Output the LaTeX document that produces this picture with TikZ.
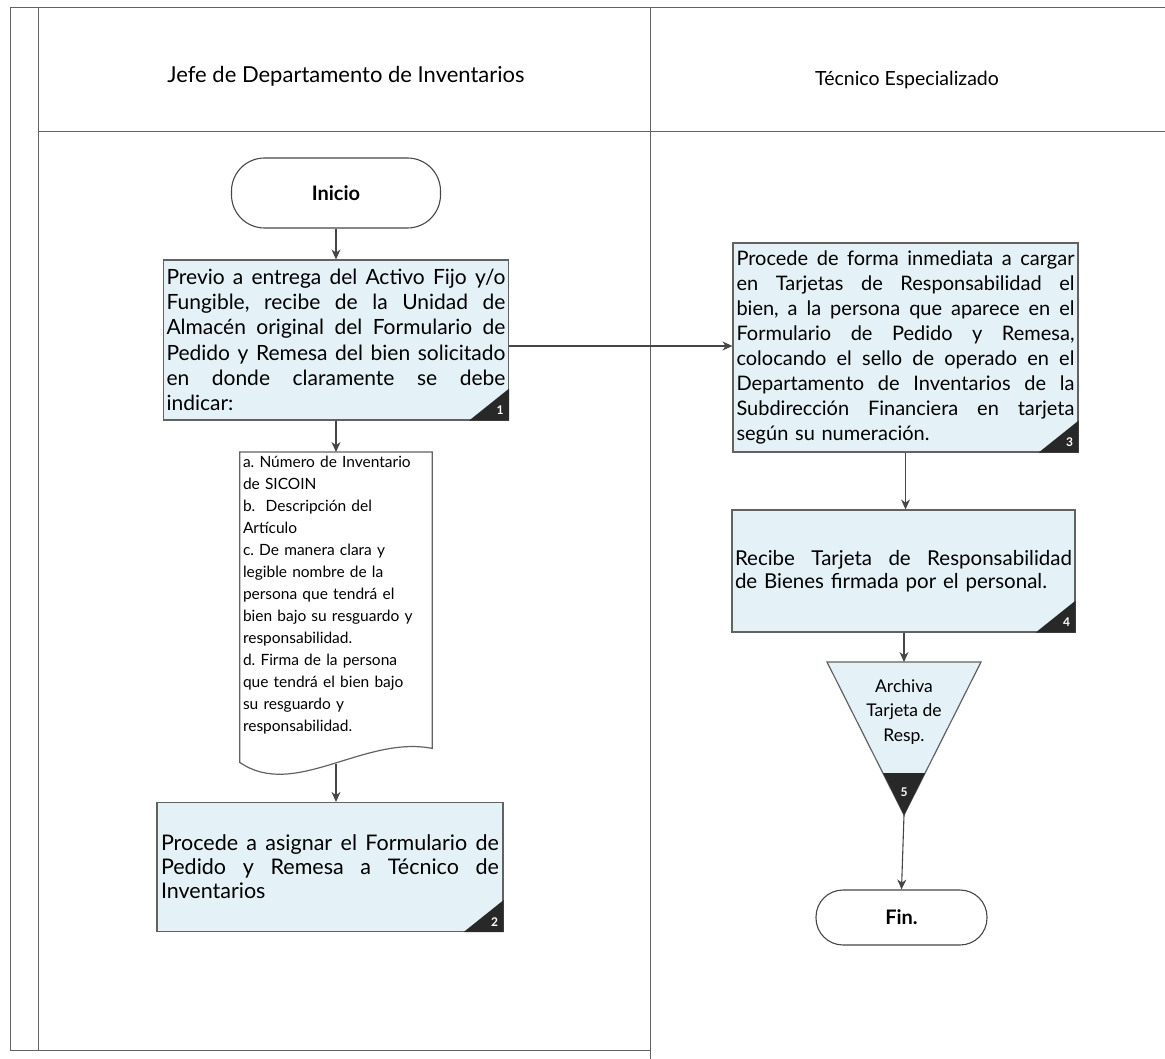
\documentclass[tikz,border=0pt]{standalone}
\usepackage{fontspec}
\setmainfont{Lato}
\usetikzlibrary{arrows.meta}
\definecolor{boxfill}{RGB}{228,241,246}
\definecolor{linec}{RGB}{70,70,70}
\definecolor{badgec}{RGB}{40,40,40}
\newcommand{\jl}[2]{\leavevmode\hbox to #1{\spaceskip=\fontdimen2\font plus 1fil minus \fontdimen4\font\relax #2}}
\frenchspacing
\begin{document}
\begin{tikzpicture}[x=1pt,y=-1pt,
  arr/.style={draw=linec, line width=1.1pt, -{Stealth[length=10pt,width=9pt]}},
  lane/.style={draw=linec!85, line width=1pt},
  outl/.style={draw=linec!85, line width=1.2pt},
  procbox/.style={outl, fill=boxfill, inner sep=3pt, align=left},
  term/.style={draw=linec, line width=1.1pt, fill=white, font=\bfseries\fontsize{20}{24}\selectfont},
  badgenum/.style={text=white, font=\bfseries\fontsize{12}{14}\selectfont, inner sep=0pt},
  hdr/.style={font=\fontsize{19.5}{23}\selectfont}]
\useasboundingbox (0,0) rectangle (1165,1059);

% lanes
\draw[lane] (10,8) -- (10,1050) -- (650,1050);
\draw[lane] (38,8) -- (38,1050);
\draw[lane] (10,8) -- (1165,8);
\draw[lane] (38,132) -- (1165,132);
\draw[lane] (650,8) -- (650,1059);

\node[hdr, font=\fontsize{22}{26}\selectfont] (h1) at (346,76) {Jefe de Departamento de Inventarios};
\node[hdr] (h2) at (907,80) {Técnico Especializado};

% Inicio
\node[term, rounded corners=33pt, minimum width=209pt, minimum height=70pt] (ini) at (336,193) {Inicio};

% Box 1
\node[procbox, minimum width=345pt, minimum height=160pt, text width=339pt,
      font=\fontsize{21}{25.3}\selectfont] (b1) at (336,340)
{\jl{339pt}{Previo a entrega del Activo Fijo y/o}\\
 \jl{339pt}{Fungible, recibe de la Unidad de}\\
 \jl{339pt}{Almacén original del Formulario de}\\
 \jl{339pt}{Pedido y Remesa del bien solicitado}\\
 \jl{339pt}{en donde claramente se debe}\\
 indicar:};
\fill[badgec] (b1.south east) -- ++(0,-32) -- ++(-40,32) -- cycle;
\node[badgenum] (n1) at ([shift={(-9,-10)}]b1.south east) {1};

% Document
\node[inner sep=0pt, minimum width=192pt, minimum height=310pt, anchor=north] (doc) at (336,452) {};
\draw[outl, fill=white] (doc.north west) -- (doc.north east) -- ([yshift=14pt]doc.south east)
   .. controls (364,735) and (294,800) .. (doc.south west) -- cycle;
\node[font=\fontsize{15.5}{22}\selectfont, text width=188pt, align=left, anchor=north west, inner sep=0pt] (doctext) at ([shift={(3,4)}]doc.north west)
{a. Número de Inventario\\
 de SICOIN\\
 b.\ \ Descripción del\\
 Artículo\\
 c. De manera clara y\\
 legible nombre de la\\
 persona que tendrá el\\
 bien bajo su resguardo y\\
 responsabilidad.\\
 d. Firma de la persona\\
 que tendrá el bien bajo\\
 su resguardo y\\
 responsabilidad.};
\coordinate (docb) at (336,764);

% Box 2
\node[procbox, minimum width=346pt, minimum height=129pt, text width=338pt,
      font=\fontsize{21.5}{24}\selectfont] (b2) at (330,867)
{\jl{338pt}{Procede a asignar el Formulario de}\\
 \jl{338pt}{Pedido y Remesa a Técnico de}\\
 Inventarios};
\fill[badgec] (b2.south east) -- ++(0,-32) -- ++(-40,32) -- cycle;
\node[badgenum] (n2) at ([shift={(-9,-10)}]b2.south east) {2};

% Box 3
\node[procbox, minimum width=345pt, minimum height=209pt, text width=338pt,
      font=\fontsize{20}{25}\selectfont] (b3) at (905.5,347.5)
{\jl{338pt}{Procede de forma inmediata a cargar}\\
 \jl{338pt}{en Tarjetas de Responsabilidad el}\\
 \jl{338pt}{bien, a la persona que aparece en el}\\
 \jl{338pt}{Formulario de Pedido y Remesa,}\\
 \jl{338pt}{colocando el sello de operado en el}\\
 \jl{338pt}{Departamento de Inventarios de la}\\
 \jl{338pt}{Subdirección Financiera en tarjeta}\\
 según su numeración.};
\fill[badgec] (b3.south east) -- ++(0,-32) -- ++(-40,32) -- cycle;
\node[badgenum] (n3) at ([shift={(-9,-10)}]b3.south east) {3};

% Box 4
\node[procbox, minimum width=343pt, minimum height=122pt, text width=337pt,
      font=\fontsize{20.5}{23}\selectfont] (b4) at (903.5,571)
{\jl{337pt}{Recibe Tarjeta de Responsabilidad}\\
 de Bienes firmada por el personal.};
\fill[badgec] (b4.south east) -- ++(0,-32) -- ++(-40,32) -- cycle;
\node[badgenum] (n4) at ([shift={(-9,-10)}]b4.south east) {4};

% Triangle (archive)
\coordinate (tritop) at (904,662);
\coordinate (triapex) at (904,815);
\draw[outl, fill=boxfill] (827,662) -- (981,662) -- (triapex) -- cycle;
\fill[badgec] (883,773) -- (925,773) -- (triapex) -- cycle;
\node[align=center, font=\fontsize{17.5}{24.5}\selectfont, inner sep=0pt] (tri) at (904,712) {Archiva\\Tarjeta de\\Resp.};
\node[badgenum] (n5) at (904,792) {5};

% Fin
\node[term, rounded corners=27pt, minimum width=171pt, minimum height=55pt] (fin) at (901.5,917.5) {Fin.};

% connectors
\draw[arr] (ini.south) -- (b1.north);
\draw[arr] (b1.south) -- (doc.north);
\draw[arr] (docb) -- (docb |- b2.north);
\draw[arr] (b1.east |- 0,346) -- (b3.west |- 0,346);
\draw[arr] (b3.south) -- (b3.south |- b4.north);
\draw[arr] (b4.south -| tritop) -- (tritop);
\draw[arr] (triapex) -- (fin.north);
\end{tikzpicture}
\end{document}
